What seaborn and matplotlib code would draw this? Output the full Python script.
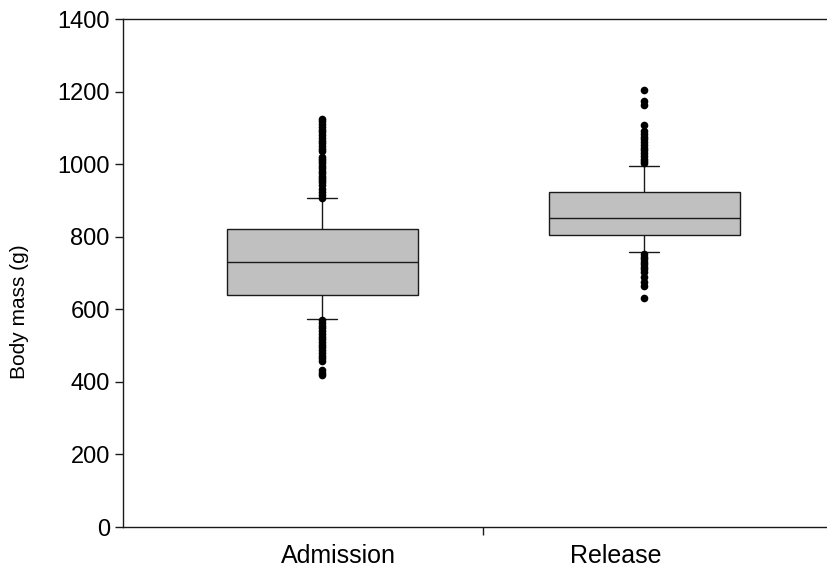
import numpy as np
import pandas as pd
import matplotlib
matplotlib.use("Agg")
import matplotlib.pyplot as plt
import seaborn as sns

# Box statistics (10th pct, Q1, median, Q3, 90th pct)
groups = ["Admission", "Release"]
admission_box = [572, 639, 731, 821, 906]
release_box = [757, 804, 851, 924, 996]

# Outlying points (beyond whiskers)
admission_out = [908, 915, 922, 932, 942, 950, 956, 962, 968, 975, 982, 988, 995,
                 1002, 1008, 1015, 1020, 1036, 1042, 1050, 1058, 1065, 1072, 1080,
                 1088, 1095, 1102, 1110, 1118, 1124,
                 570, 562, 555, 548, 540, 532, 525, 518, 510, 502, 495, 488, 480,
                 472, 465, 458, 432, 425, 418]
release_out = [1205, 1175, 1162, 1108, 1090, 1083, 1075, 1068, 1060, 1052, 1045,
               1038, 1030, 1022, 1015, 1008, 1002,
               752, 745, 738, 731, 724, 717, 710, 704, 690, 675, 665, 630]

box_df = pd.DataFrame({
    "group": [groups[0]] * len(admission_box) + [groups[1]] * len(release_box),
    "mass": admission_box + release_box,
})
out_df = pd.DataFrame({
    "group": [groups[0]] * len(admission_out) + [groups[1]] * len(release_out),
    "mass": admission_out + release_out,
})

sns.set_style("ticks", {"text.color": "black", "axes.labelcolor": "black",
                        "xtick.color": "black", "ytick.color": "black"})
plt.rcParams["font.family"] = ["Liberation Sans", "DejaVu Sans"]

fig = plt.figure(figsize=(8.27, 5.74), dpi=100)
ax = fig.add_axes([123 / 827, 47 / 574, 1 - 123 / 827, 508 / 574])

sns.boxplot(data=box_df, x="group", y="mass", order=groups, ax=ax,
            whis=(0, 100), showfliers=False, width=0.593,
            color="#c0c0c0", linecolor="#1a1a1a", linewidth=1.0,
            capwidths=0.093, saturation=1)
sns.stripplot(data=out_df, x="group", y="mass", order=groups, ax=ax,
              jitter=False, color="black", size=5.5, linewidth=0)

ax.set_ylim(0, 1400)
ax.set_yticks(np.arange(0, 1401, 200))
ax.set_xlim(-0.618, 1.568)
ax.set_xticks([0.5])
ax.set_xticklabels([""])
ax.set_xticks([0.05, 0.913], minor=True)
ax.set_xticklabels(groups, minor=True)
ax.tick_params(axis="x", which="minor", length=0, pad=12, labelsize=18, labelcolor="black")
ax.tick_params(axis="x", which="major", length=6, width=1, direction="out", color="#1a1a1a")
ax.tick_params(axis="y", length=6, width=1, direction="out", labelsize=17,
               color="#1a1a1a", labelcolor="black")
ax.set_xlabel("")
ax.set_ylabel("Body mass (g)", fontsize=15, color="black")
ax.yaxis.set_label_coords(-0.134, 0.423)

for side in ["left", "bottom", "top"]:
    ax.spines[side].set_color("#1a1a1a")
    ax.spines[side].set_linewidth(1.0)
ax.spines["right"].set_visible(False)

fig.savefig("out.png", dpi=100)
